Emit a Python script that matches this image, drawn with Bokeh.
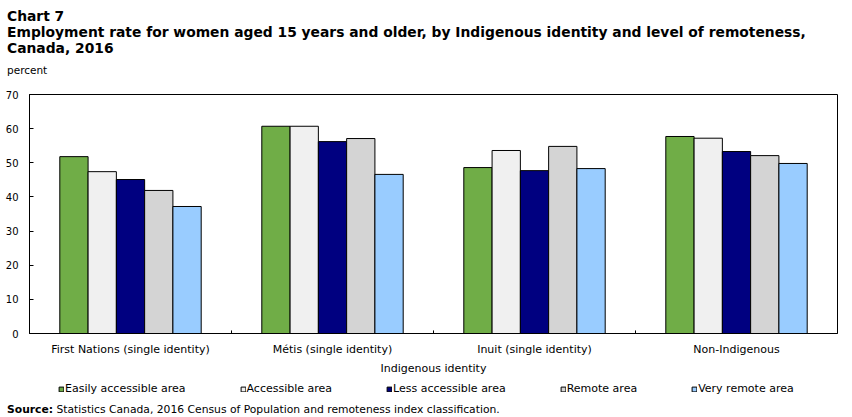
from bokeh.plotting import figure
from bokeh.layouts import column
from bokeh.models import (FactorRange, Legend, LegendItem, ColumnDataSource,
                          SingleIntervalTicker, Div)
from bokeh.transform import dodge
from bokeh.embed import file_html
from bokeh.resources import INLINE

categories = ["First Nations (single identity)", "Métis (single identity)",
              "Inuit (single identity)", "Non-Indigenous"]
series_names = ["Easily accessible area", "Accessible area", "Less accessible area",
                "Remote area", "Very remote area"]
easily = [51.8, 60.7, 48.6, 57.7]
accessible = [47.4, 60.7, 53.6, 57.2]
less_accessible = [45.1, 56.2, 47.7, 53.3]
remote = [41.9, 57.1, 54.8, 52.1]
very_remote = [37.2, 46.6, 48.3, 49.8]
colors = ["#70AD47", "#F0F0F0", "#000080", "#D4D4D4", "#99CCFF"]
y_ticks_interval = 10

title_lines = ["Chart 7",
               "Employment rate for women aged 15 years and older, by Indigenous identity and level of remoteness,",
               "Canada, 2016"]
y_unit = "percent"
x_title = "Indigenous identity"
source_text = "Statistics Canada, 2016 Census of Population and remoteness index classification."

series = [easily, accessible, less_accessible, remote, very_remote]

FONT = "DejaVu Sans"
W = 852

# ---------- header (titles) ----------
title_div = Div(
    text=("<div style=\"font-family:'DejaVu Sans';color:#000;padding:8px 0 0 7px;\">"
          "<div style='font-size:13.85px;font-weight:bold;line-height:16px;white-space:nowrap'>"
          + "<br>".join(title_lines) +
          "</div><div style='font-size:10.5px;line-height:12px;margin-top:8px'>"
          + y_unit + "</div></div>"),
    width=W, height=80, margin=0)

# ---------- main chart ----------
p = figure(width=W, height=297, x_range=FactorRange(*categories, range_padding=0),
           y_range=(0, 70), output_backend="svg", toolbar_location=None,
           min_border_left=29, min_border_right=15, min_border_top=14, min_border_bottom=44)

src = ColumnDataSource(dict(cat=categories, **{f"s{i}": s for i, s in enumerate(series)}))
bw = 0.14
for i, col in enumerate(colors):
    p.vbar(x=dodge("cat", (i - 2) * bw, range=p.x_range), top=f"s{i}", width=bw,
           source=src, fill_color=col, line_color="black", line_width=1)

# boundary ticks on x axis
p.segment(x0=dodge("cat", -0.5, range=p.x_range), x1=dodge("cat", -0.5, range=p.x_range),
          y0=0, y1=0.9, source=ColumnDataSource(dict(cat=categories[1:])),
          line_color="black", line_width=1)

p.xgrid.grid_line_color = None
p.ygrid.grid_line_color = None
p.outline_line_color = "black"
p.outline_line_width = 1

p.yaxis.ticker = SingleIntervalTicker(interval=y_ticks_interval)
p.yaxis.minor_tick_line_color = None
p.yaxis.major_tick_in = 4
p.yaxis.major_tick_out = 0
p.yaxis.major_label_standoff = 7
p.yaxis.axis_line_color = "black"
p.yaxis.major_label_text_font = FONT
p.yaxis.major_label_text_font_size = "10px"
p.yaxis.major_label_text_color = "black"

p.xaxis.major_tick_line_color = None
p.xaxis.major_tick_in = 0
p.xaxis.major_tick_out = 0
p.xaxis.major_label_standoff = 9
p.xaxis.major_label_text_font = FONT
p.xaxis.major_label_text_font_size = "11px"
p.xaxis.major_label_text_color = "black"
p.xaxis.axis_label = x_title
p.xaxis.axis_label_text_font = FONT
p.xaxis.axis_label_text_font_size = "11px"
p.xaxis.axis_label_text_font_style = "normal"
p.xaxis.axis_label_text_color = "black"
p.xaxis.axis_label_standoff = 3

# ---------- legend strip ----------
bot = figure(width=W, height=24, x_range=(0, W), y_range=(0, 24), output_backend="svg",
             toolbar_location=None, x_axis_type=None, y_axis_type=None,
             min_border=0, outline_line_color=None)
bot.grid.grid_line_color = None
items = []
for name, col in zip(series_names, colors):
    r = bot.vbar(x=[-1000], top=[0], width=1, fill_color=col, line_color="black", line_width=1)
    items.append(LegendItem(label=name, renderers=[r]))
legend = Legend(items=items, orientation="horizontal", location=(29, 6),
                glyph_width=6, glyph_height=6, label_standoff=1, spacing=54,
                label_text_font=FONT, label_text_font_size="11px", label_text_color="black",
                border_line_color=None, background_fill_alpha=0, padding=0, margin=0,
                label_height=12)
bot.add_layout(legend, "center")

# ---------- source ----------
src_div = Div(
    text=("<div style=\"font-family:'DejaVu Sans';color:#000;font-size:10.75px;"
          "line-height:14px;padding-left:7px;white-space:nowrap\"><b>Source:</b> "
          + source_text + "</div>"),
    width=W, height=16, margin=0)

layout = column(title_div, p, bot, src_div, spacing=0)
open("out.html", "w").write(file_html(layout, INLINE))
